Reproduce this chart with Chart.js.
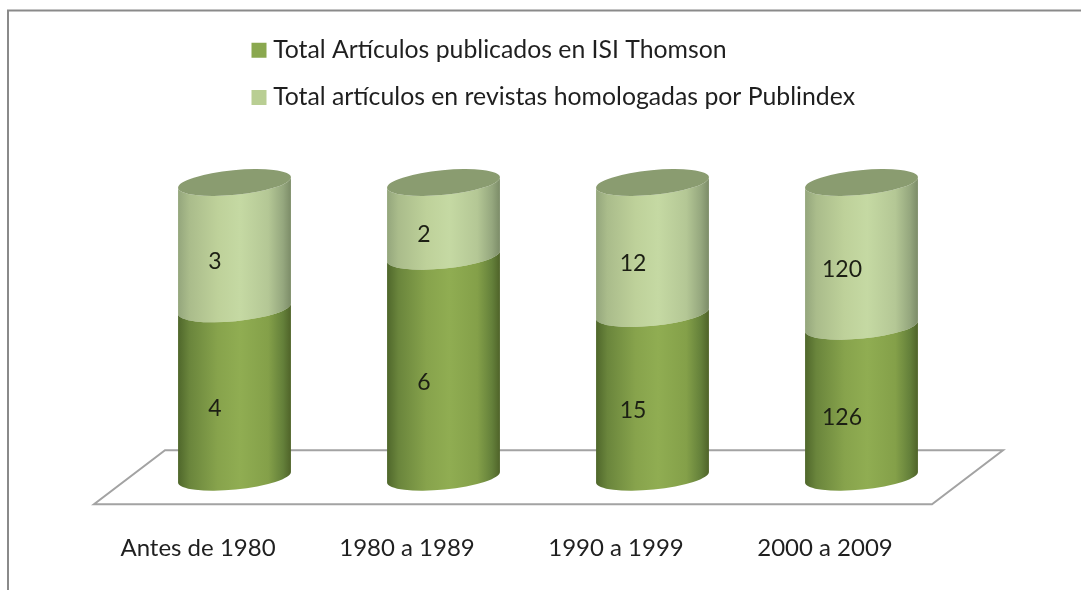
<!DOCTYPE html>
<html>
<head>
<meta charset="utf-8">
<style>html,body{margin:0;padding:0;background:#fff}#wrap{width:1081px;height:590px;position:relative}</style>
<script src="https://cdn.jsdelivr.net/npm/chart.js@4/dist/chart.umd.js"></script>
</head>
<body>
<div id="wrap"><canvas id="c" width="1081" height="590"></canvas></div>
<script>
const categories = ['Antes de 1980', '1980 a 1989', '1990 a 1999', '2000 a 2009'];
const isiValues = [4, 6, 15, 126];
const publindexValues = [3, 2, 12, 120];
const isiName = 'Total Artículos publicados en ISI Thomson';
const publindexName = 'Total artículos en revistas homologadas por Publindex';
const totals = isiValues.map((v, i) => v + publindexValues[i]);
const isiShare = isiValues.map((v, i) => v / totals[i] * 100);
const publindexShare = publindexValues.map((v, i) => v / totals[i] * 100);

const FONT = 'Lato, Carlito, sans-serif';
const rawValues = [isiValues, publindexValues];
const tilt = -0.0972, ry = 12.4;
const ramps = [
  [[0,'#4f672b'],[0.1,'#6a853c'],[0.35,'#87a34c'],[0.55,'#90ad52'],[0.8,'#84a049'],[0.93,'#64803a'],[1,'#4f6329']],
  [[0,'#94a67c'],[0.1,'#aabc8b'],[0.35,'#bed19a'],[0.55,'#c5d9a3'],[0.8,'#b4c795'],[0.93,'#95a77e'],[1,'#7c8c68']]
];
const capColor = '#8a9c70';

const cylinders = {
  id: 'cylinders',
  afterLayout(chart) {
    const l = chart.legend;
    l.left = 234.75; l.top = 15.25; l.right = 950; l.bottom = 300;
  },
  beforeDatasetsDraw(chart) {
    const { ctx, scales: { x } } = chart;
    // floor: parallelogram sheared behind the axis
    const fl = x.left - 36, fr = x.right - 34, skew = 71;
    const fy = chart.chartArea.bottom + 27, by = fy - 54;
    ctx.save();
    ctx.strokeStyle = '#a3a3a3';
    ctx.lineWidth = 2;
    ctx.lineJoin = 'miter';
    ctx.beginPath();
    ctx.moveTo(fl, fy); ctx.lineTo(fr, fy); ctx.lineTo(fr + skew, by); ctx.lineTo(fl + skew, by);
    ctx.closePath();
    ctx.stroke();
    ctx.restore();
    // frame
    ctx.save();
    ctx.strokeStyle = '#8a8a8a';
    ctx.lineWidth = 2;
    ctx.beginPath();
    ctx.moveTo(8, 590); ctx.lineTo(8, 10.5); ctx.lineTo(1081, 10.5);
    ctx.stroke();
    ctx.restore();
  },
  beforeDatasetDraw(chart, args) {
    const { ctx } = chart;
    const meta = args.meta;
    meta.data.forEach((el) => {
      const w = el.width, cx = el.x;
      const rx = w / 2 / Math.cos(tilt);
      const g = ctx.createLinearGradient(cx - w / 2, 0, cx + w / 2, 0);
      ramps[args.index].forEach(s => g.addColorStop(s[0], s[1]));
      ctx.save();
      ctx.fillStyle = g;
      ctx.beginPath();
      ctx.ellipse(cx, el.base, rx, ry, tilt, 0, Math.PI, false);
      ctx.ellipse(cx, el.y, rx, ry, tilt, Math.PI, 0, true);
      ctx.closePath();
      ctx.fill();
      if (args.index === chart.data.datasets.length - 1) {
        ctx.fillStyle = capColor;
        ctx.beginPath();
        ctx.ellipse(cx, el.y, rx, ry, tilt, 0, Math.PI * 2);
        ctx.fill();
      }
      ctx.restore();
    });
    return false;
  },
  afterDatasetsDraw(chart) {
    const { ctx } = chart;
    ctx.save();
    ctx.fillStyle = '#1c1f14';
    ctx.font = '23px ' + FONT;
    ctx.textAlign = 'center';
    ctx.textBaseline = 'middle';
    chart.data.datasets.forEach((ds, d) => {
      chart.getDatasetMeta(d).data.forEach((el, i) => {
        ctx.fillText(String(rawValues[d][i]), el.x - 19.5, (el.y + el.base) / 2 + 15.5);
      });
    });
    ctx.restore();
  }
};

new Chart(document.getElementById('c'), {
  type: 'bar',
  data: {
    labels: categories,
    datasets: [
      { label: isiName, data: isiShare, backgroundColor: '#8aa84f' },
      { label: publindexName, data: publindexShare, backgroundColor: '#b9ce93' }
    ]
  },
  plugins: [cylinders],
  options: {
    responsive: false,
    animation: false,
    layout: { padding: { left: 130, right: 115, top: 182.5, bottom: -22 } },
    datasets: { bar: { categoryPercentage: 1, barPercentage: 0.54 } },
    scales: {
      x: {
        stacked: true,
        grid: { display: false },
        border: { display: false },
        ticks: { color: '#1f1f1f', font: { family: FONT, size: 24 }, padding: 49, labelOffset: -36.5, maxRotation: 0, autoSkip: false }
      },
      y: { stacked: true, display: false, min: 0, max: 100 }
    },
    plugins: {
      tooltip: { enabled: false },
      legend: {
        position: 'chartArea',
        align: 'start',
        labels: {
          color: '#1f1f1f',
          font: { family: FONT, size: 24.8 },
          usePointStyle: true,
          pointStyle: 'rect',
          boxWidth: 3.5,
          boxHeight: 15,
          padding: 22.5
        }
      }
    }
  }
});
</script>
</body>
</html>
